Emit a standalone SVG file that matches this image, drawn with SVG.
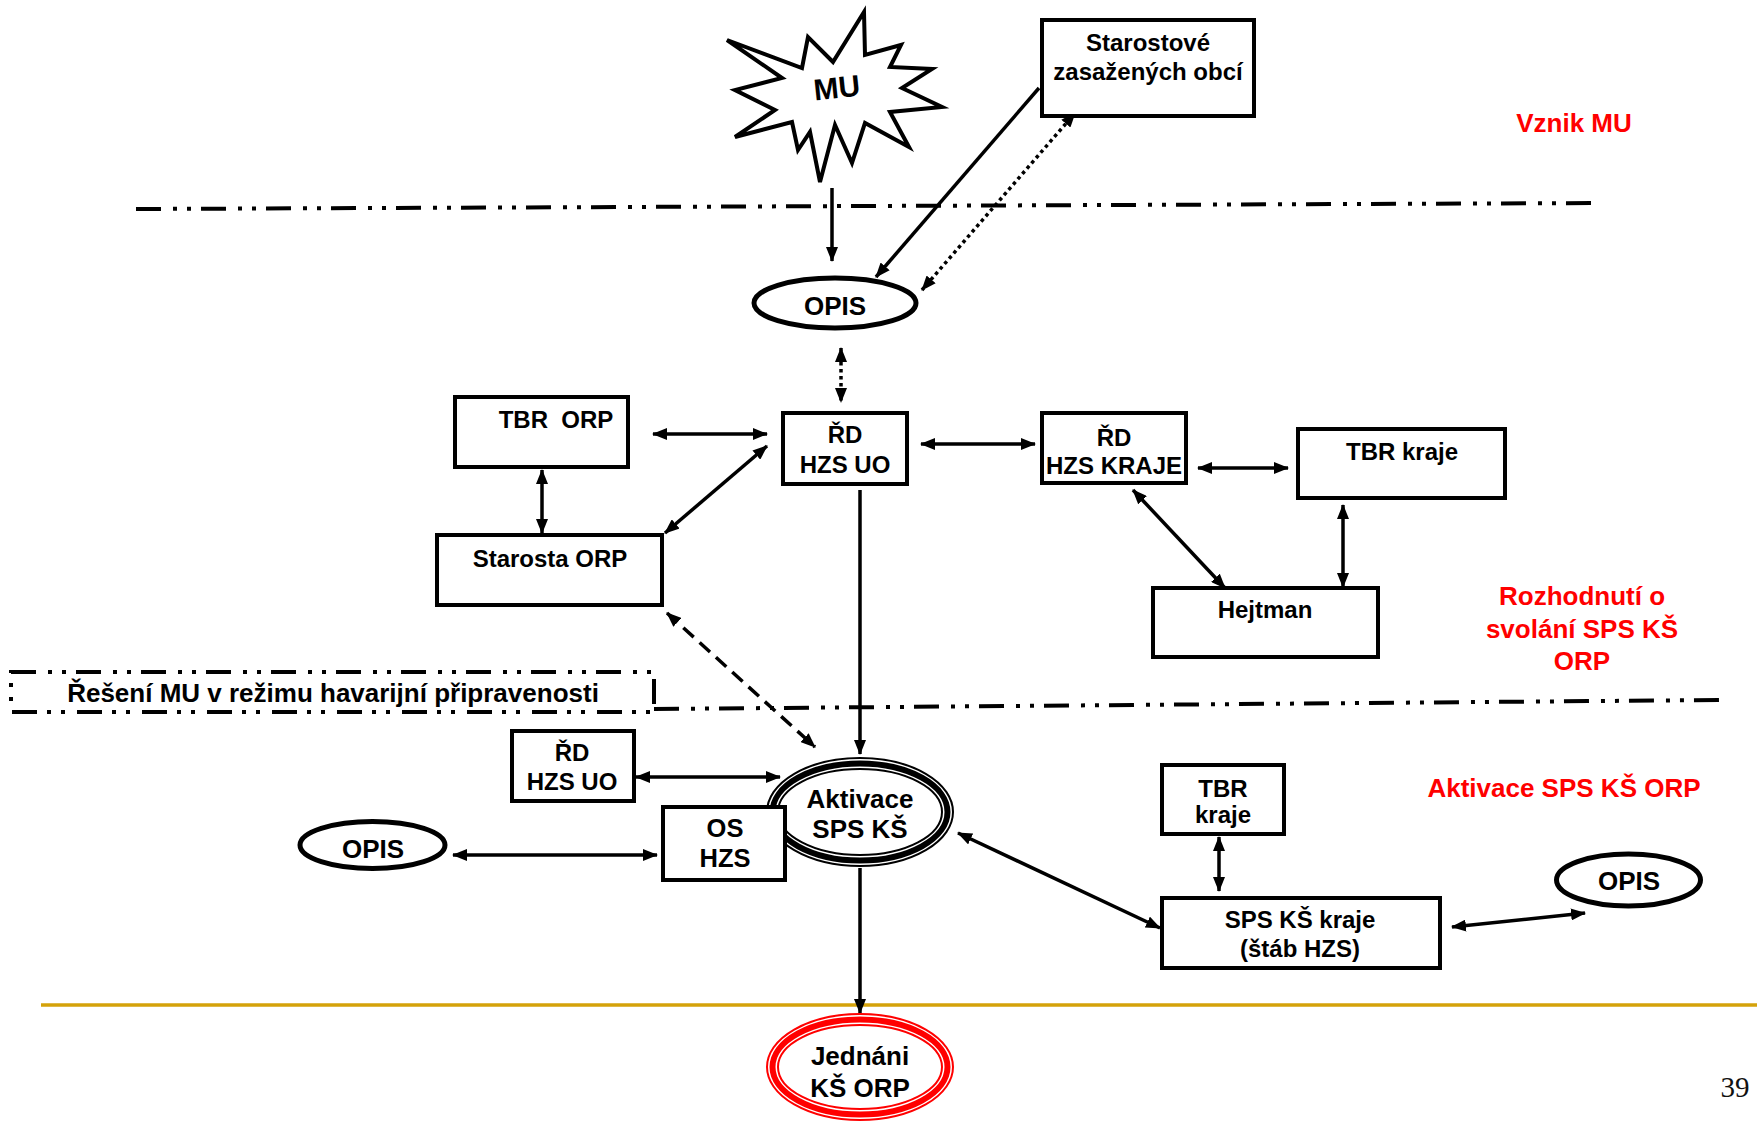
<svg xmlns="http://www.w3.org/2000/svg" width="1757" height="1123" viewBox="0 0 1757 1123">
<style>
.box{fill:#fff;stroke:#000;stroke-width:4}
.ell{fill:#fff;stroke:#000;stroke-width:5}
.t{font-family:"Liberation Sans",Arial,sans-serif;font-weight:bold;font-size:24px;text-anchor:middle;fill:#000}
.big{font-size:26px}
.red{fill:#ff0000;font-size:26px}
.ln{stroke:#000;stroke-width:3.5;fill:none}
.dot{stroke-dasharray:3.5 3.5}
.dash{stroke-dasharray:14 8}
.sep{stroke:#000;stroke-width:4;fill:none;stroke-dasharray:25 12 4 10 4 10}
</style>
<defs>
<marker id="ah" viewBox="0 0 15 12" refX="14" refY="6" markerWidth="15" markerHeight="12" markerUnits="userSpaceOnUse" orient="auto-start-reverse">
<path d="M0,0 L15,6 L0,12 z" fill="#000" stroke="none"/>
</marker>
</defs>
<rect width="1757" height="1123" fill="#fff"/>

<g id="separators">
<line class="sep" x1="136" y1="209" x2="1598" y2="203"/>
<line class="sep" x1="654" y1="709" x2="1720" y2="700"/>
<line x1="41" y1="1005" x2="1757" y2="1005" stroke="#D4A20A" stroke-width="3.5"/>
</g>

<g id="phase-labels">
<text class="t red" x="1574" y="132">Vznik MU</text>
<text class="t red" x="1582" y="605">Rozhodnutí o</text>
<text class="t red" x="1582" y="638">svolání SPS KŠ</text>
<text class="t red" x="1582" y="670">ORP</text>
<text class="t red" x="1564" y="797">Aktivace SPS KŠ ORP</text>
</g>

<g id="rezim">
<rect class="sep" x="11" y="672" width="643" height="40"/>
<text class="t big" x="333" y="702">Řešení MU v režimu havarijní připravenosti</text>
</g>

<g id="connectors">
<line class="ln" x1="832" y1="188" x2="832" y2="261" marker-end="url(#ah)"/>
<line class="ln" x1="1039" y1="88" x2="876" y2="277" marker-end="url(#ah)"/>
<line class="ln dot" x1="1075" y1="113" x2="922" y2="290" marker-start="url(#ah)" marker-end="url(#ah)"/>
<line class="ln dot" x1="841" y1="348" x2="841" y2="402" marker-start="url(#ah)" marker-end="url(#ah)"/>
<line class="ln" x1="653" y1="434" x2="767" y2="434" marker-start="url(#ah)" marker-end="url(#ah)"/>
<line class="ln" x1="542" y1="470" x2="542" y2="533" marker-start="url(#ah)" marker-end="url(#ah)"/>
<line class="ln" x1="665" y1="533" x2="767" y2="446" marker-start="url(#ah)" marker-end="url(#ah)"/>
<line class="ln" x1="921" y1="444" x2="1035" y2="444" marker-start="url(#ah)" marker-end="url(#ah)"/>
<line class="ln" x1="1198" y1="468" x2="1288" y2="468" marker-start="url(#ah)" marker-end="url(#ah)"/>
<line class="ln" x1="1133" y1="490" x2="1225" y2="588" marker-start="url(#ah)" marker-end="url(#ah)"/>
<line class="ln" x1="1343" y1="505" x2="1343" y2="587" marker-start="url(#ah)" marker-end="url(#ah)"/>
<line class="ln" x1="860" y1="490" x2="860" y2="754" marker-end="url(#ah)"/>
<line class="ln dash" x1="667" y1="613" x2="815" y2="747" marker-start="url(#ah)" marker-end="url(#ah)"/>
<line class="ln" x1="636" y1="777" x2="780" y2="777" marker-start="url(#ah)" marker-end="url(#ah)"/>
<line class="ln" x1="453" y1="855" x2="657" y2="855" marker-start="url(#ah)" marker-end="url(#ah)"/>
<line class="ln" x1="958" y1="833" x2="1160" y2="928" marker-start="url(#ah)" marker-end="url(#ah)"/>
<line class="ln" x1="1219" y1="837" x2="1219" y2="891" marker-start="url(#ah)" marker-end="url(#ah)"/>
<line class="ln" x1="1452" y1="927" x2="1585" y2="913" marker-start="url(#ah)" marker-end="url(#ah)"/>
<line class="ln" x1="860" y1="868" x2="860" y2="1013" marker-end="url(#ah)"/>
</g>

<g id="mu">
<polygon points="864,12 865,55 901,45 890,67 932,69 902,88 942,107 890,112 909,147 865,123 852,163 835,125 820,182 810,132 798,150 792,122 735,137 775,110 735,90 782,78 727,40 802,68 808,37 833,62" fill="#fff" stroke="#000" stroke-width="4" stroke-linejoin="miter"/>
<text class="t" style="font-size:30px" x="837" y="98" transform="rotate(-6 837 90)">MU</text>
</g>

<g id="starostove">
<rect class="box" x="1042" y="20" width="212" height="96"/>
<text class="t" x="1148" y="51">Starostové</text>
<text class="t" x="1148" y="80">zasažených obcí</text>
</g>

<g id="opis-top">
<ellipse class="ell" cx="835" cy="303" rx="81" ry="25"/>
<text class="t big" x="835" y="315">OPIS</text>
</g>

<g id="tbr-orp">
<rect class="box" x="455" y="397" width="173" height="70"/>
<text class="t" x="556" y="428" xml:space="preserve">TBR  ORP</text>
</g>

<g id="rd-hzs-uo">
<rect class="box" x="783" y="413" width="124" height="71"/>
<text class="t" x="845" y="443">ŘD</text>
<text class="t" x="845" y="473">HZS UO</text>
</g>

<g id="starosta-orp">
<rect class="box" x="437" y="535" width="225" height="70"/>
<text class="t" x="550" y="567">Starosta ORP</text>
</g>

<g id="rd-hzs-kraje">
<rect class="box" x="1042" y="413" width="144" height="70"/>
<text class="t" x="1114" y="446">ŘD</text>
<text class="t" x="1114" y="474">HZS KRAJE</text>
</g>

<g id="tbr-kraje">
<rect class="box" x="1298" y="429" width="207" height="69"/>
<text class="t" x="1402" y="460">TBR kraje</text>
</g>

<g id="hejtman">
<rect class="box" x="1153" y="588" width="225" height="69"/>
<text class="t" x="1265" y="618">Hejtman</text>
</g>

<g id="aktivace">
<ellipse cx="860" cy="812" rx="93" ry="54" fill="#fff" stroke="#000" stroke-width="2"/>
<ellipse cx="860" cy="812" rx="87.5" ry="48.5" fill="none" stroke="#000" stroke-width="6"/>
<ellipse cx="860" cy="812" rx="82" ry="43" fill="none" stroke="#000" stroke-width="2"/>
<text class="t big" x="860" y="808">Aktivace</text>
<text class="t big" x="860" y="838">SPS KŠ</text>
</g>

<g id="rd-hzs-uo-2">
<rect class="box" x="512" y="731" width="122" height="70"/>
<text class="t" x="572" y="761">ŘD</text>
<text class="t" x="572" y="790">HZS UO</text>
</g>

<g id="os-hzs">
<rect class="box" x="663" y="807" width="122" height="73"/>
<text class="t" style="font-size:25.5px" x="725" y="837">OS</text>
<text class="t" style="font-size:25.5px" x="725" y="867">HZS</text>
</g>

<g id="opis-left">
<ellipse class="ell" cx="372.5" cy="845" rx="72.5" ry="23.5"/>
<text class="t big" x="373" y="858">OPIS</text>
</g>

<g id="tbr-kraje-2">
<rect class="box" x="1162" y="765" width="122" height="69"/>
<text class="t" x="1223" y="797">TBR</text>
<text class="t" x="1223" y="823">kraje</text>
</g>

<g id="sps-ks-kraje">
<rect class="box" x="1162" y="898" width="278" height="70"/>
<text class="t" x="1300" y="928">SPS KŠ kraje</text>
<text class="t" x="1300" y="957">(štáb HZS)</text>
</g>

<g id="opis-right">
<ellipse class="ell" cx="1628.5" cy="880" rx="72" ry="26"/>
<text class="t big" x="1629" y="890">OPIS</text>
</g>

<g id="jednani">
<ellipse cx="860" cy="1067" rx="93" ry="53" fill="#fff" stroke="#ff0000" stroke-width="2"/>
<ellipse cx="860" cy="1067" rx="87.5" ry="47.5" fill="none" stroke="#ff0000" stroke-width="6"/>
<ellipse cx="860" cy="1067" rx="82" ry="42" fill="none" stroke="#ff0000" stroke-width="2"/>
<text class="t big" x="860" y="1065">Jednáni</text>
<text class="t big" x="860" y="1097">KŠ ORP</text>
</g>

<text x="1735" y="1097" font-family="Liberation Serif, serif" font-size="29" text-anchor="middle" fill="#111">39</text>
</svg>
